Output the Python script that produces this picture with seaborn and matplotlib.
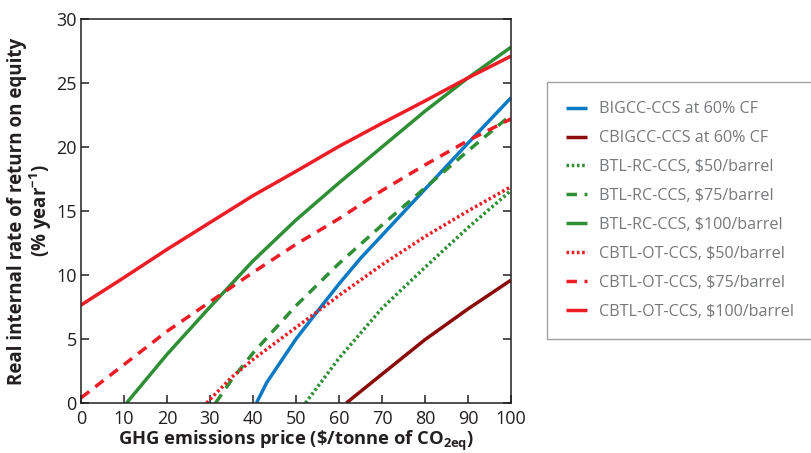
import matplotlib
matplotlib.use("Agg")
import matplotlib.pyplot as plt
import pandas as pd
import seaborn as sns

# GHG emissions price ($/tonne CO2eq) and real IRR on equity (% per year)
price_bigcc = [40.8, 43.2, 50, 56, 60, 65, 70, 80, 90, 100]
irr_bigcc = [0.0, 1.6, 5.0, 7.6, 9.3, 11.3, 13.1, 16.7, 20.3, 23.85]

price_cbigcc = [61.7, 70, 80, 90, 100]
irr_cbigcc = [0.0, 2.25, 4.95, 7.35, 9.6]

price_btl50 = [52.2, 60, 70, 80, 90, 100]
irr_btl50 = [0.0, 3.5, 7.4, 10.6, 13.7, 16.6]

price_btl75 = [31.3, 35, 40, 50, 60, 70, 80, 90, 100]
irr_btl75 = [0.0, 1.8, 3.9, 7.6, 10.9, 13.9, 16.8, 19.7, 22.5]

price_btl100 = [10.6, 20, 30, 40, 50, 60, 70, 80, 90, 100]
irr_btl100 = [0.0, 3.8, 7.5, 11.1, 14.3, 17.2, 20.0, 22.8, 25.4, 27.8]

price_cbtl50 = [29.2, 35, 40, 50, 60, 70, 80, 90, 100]
irr_cbtl50 = [0.0, 2.0, 3.4, 5.9, 8.4, 10.8, 13.0, 15.0, 16.9]

price_cbtl75 = [0, 10, 20, 30, 40, 50, 60, 70, 80, 90, 100]
irr_cbtl75 = [0.4, 3.0, 5.6, 7.9, 10.2, 12.4, 14.4, 16.6, 18.6, 20.5, 22.2]

price_cbtl100 = [0, 10, 20, 30, 40, 50, 60, 70, 80, 90, 100]
irr_cbtl100 = [7.65, 9.8, 12.0, 14.1, 16.2, 18.1, 20.05, 21.85, 23.6, 25.4, 27.1]

x_ticks = [0, 10, 20, 30, 40, 50, 60, 70, 80, 90, 100]
y_ticks = [0, 5, 10, 15, 20, 25, 30]

BLUE = "#0a7ac4"
DARKRED = "#8b0a0a"
GREEN = "#2e8f35"
RED = "#ee1c25"
DOT = (0, (0.75, 0.75))
DASH = (0, (3.0, 2.2))

series = [
    ("BIGCC-CCS at 60% CF", price_bigcc, irr_bigcc, BLUE, "-"),
    ("CBIGCC-CCS at 60% CF", price_cbigcc, irr_cbigcc, DARKRED, "-"),
    ("BTL-RC-CCS, $50/barrel", price_btl50, irr_btl50, GREEN, DOT),
    ("BTL-RC-CCS, $75/barrel", price_btl75, irr_btl75, GREEN, DASH),
    ("BTL-RC-CCS, $100/barrel", price_btl100, irr_btl100, GREEN, "-"),
    ("CBTL-OT-CCS, $50/barrel", price_cbtl50, irr_cbtl50, RED, DOT),
    ("CBTL-OT-CCS, $75/barrel", price_cbtl75, irr_cbtl75, RED, DASH),
    ("CBTL-OT-CCS, $100/barrel", price_cbtl100, irr_cbtl100, RED, "-"),
]

sns.set_theme(style="ticks")
plt.rcParams["font.family"] = ["Open Sans", "DejaVu Sans"]
plt.rcParams["mathtext.fontset"] = "custom"
plt.rcParams["mathtext.rm"] = "Open Sans"
plt.rcParams["mathtext.bf"] = "Open Sans:bold"

TEXT = "#231f20"

fig = plt.figure(figsize=(8.11, 4.53), dpi=100)
ax = fig.add_axes([81 / 811, 50 / 453, 430 / 811, 384 / 453])

handles = []
for name, xs, ys, color, ls in series:
    df = pd.DataFrame({"price": xs, "irr": ys})
    sns.lineplot(data=df, x="price", y="irr", ax=ax, color=color,
                 linewidth=2.5, sort=True, estimator=None, legend=False)
    line = ax.lines[-1]
    line.set_linestyle(ls)
    line.set_dash_capstyle("butt")
    line.set_solid_capstyle("butt")
    line.set_label(name)
    handles.append(line)

if ax.get_legend() is not None:
    ax.get_legend().remove()

ax.set_xlim(0, 100)
ax.set_ylim(0, 30)
ax.set_xticks(x_ticks)
ax.set_yticks(y_ticks)
ax.tick_params(axis="both", direction="in", length=6, width=1.1,
               labelsize=13, colors=TEXT, pad=3)
ax.tick_params(axis="y", right=True, left=True)
ax.tick_params(axis="x", top=False, bottom=True, pad=5)
for side in ["top", "right", "left", "bottom"]:
    ax.spines[side].set_visible(True)
    ax.spines[side].set_color(TEXT)
    ax.spines[side].set_linewidth(1.1)

ax.set_xlabel(r"GHG emissions price (\$/tonne of CO$_\mathbf{2eq}$)",
              fontsize=13.2, fontweight="bold", color=TEXT, labelpad=0.5)
ax.set_ylabel("Real internal rate of return on equity\n(% year$^{\\mathbf{-1}}$)",
              fontsize=13.5, fontweight="bold", color=TEXT, labelpad=2,
              linespacing=1.0)

leg = fig.legend(handles=handles, loc="upper left",
                 bbox_to_anchor=(547 / 811, 1 - 82 / 453),
                 frameon=True, fancybox=False, fontsize=11.6,
                 handlelength=1.3, handletextpad=0.75, labelspacing=0.8,
                 borderpad=1.2, borderaxespad=0)
leg.get_frame().set_edgecolor("#8a8a8a")
leg.get_frame().set_linewidth(1.0)
for t in leg.get_texts():
    t.set_color("#77787b")

fig.savefig("out.png", dpi=100)
